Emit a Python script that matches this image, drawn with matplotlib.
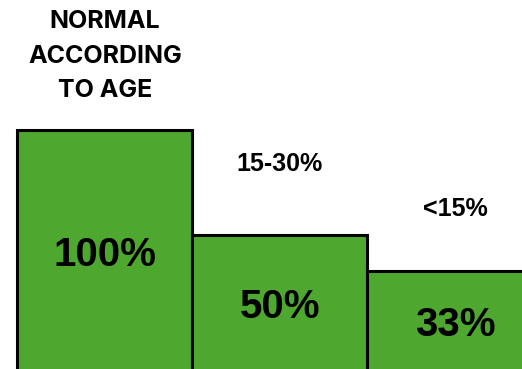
import matplotlib.pyplot as plt

# bar values (percent) and their captions
values = [100, 50, 33]
value_labels = ["100%", "50%", "33%"]
captions = ["NORMAL\nACCORDING\nTO AGE", "15-30%", "<15%"]

fig = plt.figure(figsize=(5.22, 3.69), dpi=100)
ax = fig.add_axes([0, 0, 1, 1])

x = range(len(values))
base = -20  # bars run off the bottom of the figure
ax.bar(x, [v - base for v in values], bottom=base, width=1.0,
       color="#4ea72e", edgecolor="black", linewidth=2.2)

ax.set_xlim(-0.6, 2.383)
ax.set_ylim(-13.6, 162.1)
ax.axis("off")

# value labels in the middle of the visible part of each bar
ylo = ax.get_ylim()[0]
for i, v in enumerate(values):
    ax.text(i, (v + ylo) / 2 - 2.5, value_labels[i], ha="center", va="center",
            fontsize=29, fontweight="bold", family="Liberation Sans")

# captions above the bars (offsets in points)
cap_offsets = [53.5, 51.5, 45.0]
for i, v in enumerate(values):
    if i == 0:
        ax.annotate(captions[i], (i, v), xytext=(0, cap_offsets[i]),
                    textcoords="offset points", ha="center", va="center",
                    fontsize=18, fontweight="bold", family="Inter",
                    linespacing=1.62)
    else:
        ax.annotate(captions[i], (i, v), xytext=(0, cap_offsets[i]),
                    textcoords="offset points", ha="center", va="center",
                    fontsize=18, fontweight="bold", family="Liberation Sans")

fig.savefig("out.png", dpi=100)
